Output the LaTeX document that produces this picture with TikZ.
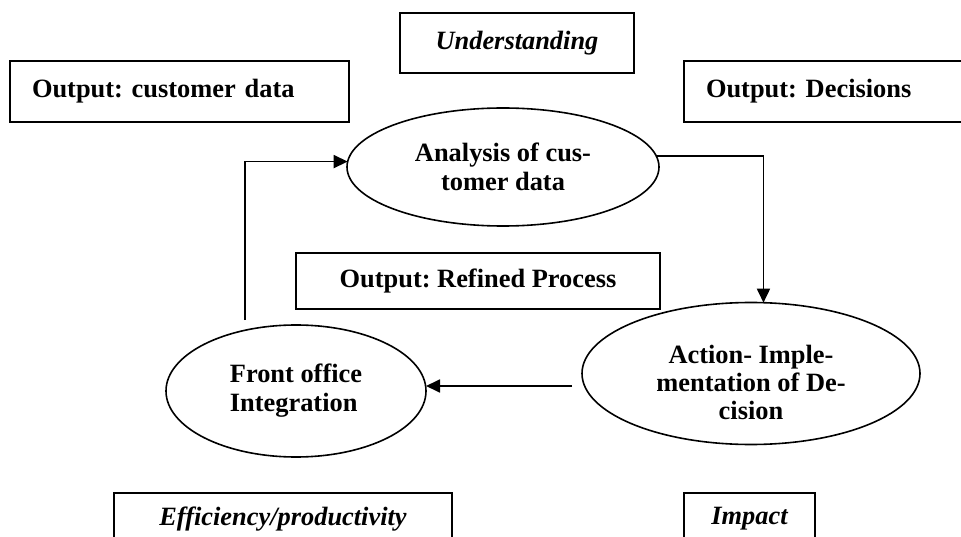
\documentclass[tikz,border=0pt]{standalone}
\usepackage{fontspec}
\setmainfont{Liberation Serif}
\usetikzlibrary{shapes.geometric,arrows.meta}
\frenchspacing
\tikzset{
  lbox/.style={draw, line width=1.7pt, rectangle, inner sep=0pt, outer sep=0pt, align=center,
    font=\fontsize{26.4}{29}\selectfont\bfseries},
  ibox/.style={lbox, font=\fontsize{26.4}{29}\selectfont\bfseries\itshape},
  oval/.style={draw, line width=1.6pt, ellipse, inner sep=0pt, outer sep=0pt, align=center,
    font=\fontsize{26.4}{29}\selectfont\bfseries},
  txt/.style={inner sep=0pt, align=center, font=\fontsize{26.4}{28}\selectfont\bfseries},
  arr/.style={line width=1.8pt, -{Triangle[length=14pt,width=13pt]}}
}
\begin{document}
\begin{tikzpicture}[x=1pt,y=-1pt]
\useasboundingbox (0,0) rectangle (961,537);
\clip (0,0) rectangle (961,537);
% boxes
\node[ibox, minimum width=234pt, minimum height=60pt] (und) at (517,43) {Understanding};
\node[lbox, minimum width=339pt, minimum height=61pt, text width=295pt, align=left] (cust) at (179.5,91.5) {Output: customer data};
\node[lbox, anchor=west, minimum width=330pt, minimum height=61pt, text width=286pt, align=left] (dec) at (684,91.5) {Output: Decisions};
\node[lbox, minimum width=364pt, minimum height=56pt] (ref) at (478,281) {Output: Refined Process};
\node[ibox, minimum width=338pt, minimum height=52pt] (eff) at (283,519) {Efficiency/productivity};
\node[ibox, minimum width=131pt, minimum height=52pt] (imp) at (749.5,519) {Impact};
% ellipses
\node[oval, minimum width=312pt, minimum height=118pt] (ana) at (503,167) {Analysis of cus-\\tomer data};
\node[oval, minimum width=338pt, minimum height=142pt] (act) at (751,373.5) {};
\node[txt] (acttxt) at ([yshift=-9pt]act.center) {Action- Imple-\\mentation of De-\\cision};
\node[oval, minimum width=260pt, minimum height=132pt, align=left] (fo) at (296,391) {Front office\\Integration};
% connectors
\coordinate (fstart) at (245,320);
\coordinate (astart) at (572,386);
\draw[arr] (fstart) |- (ana.178);
\draw[arr] (ana.4) -| (act.80);
\draw[arr] (astart) -- (astart -| fo.east);
\end{tikzpicture}
\end{document}
